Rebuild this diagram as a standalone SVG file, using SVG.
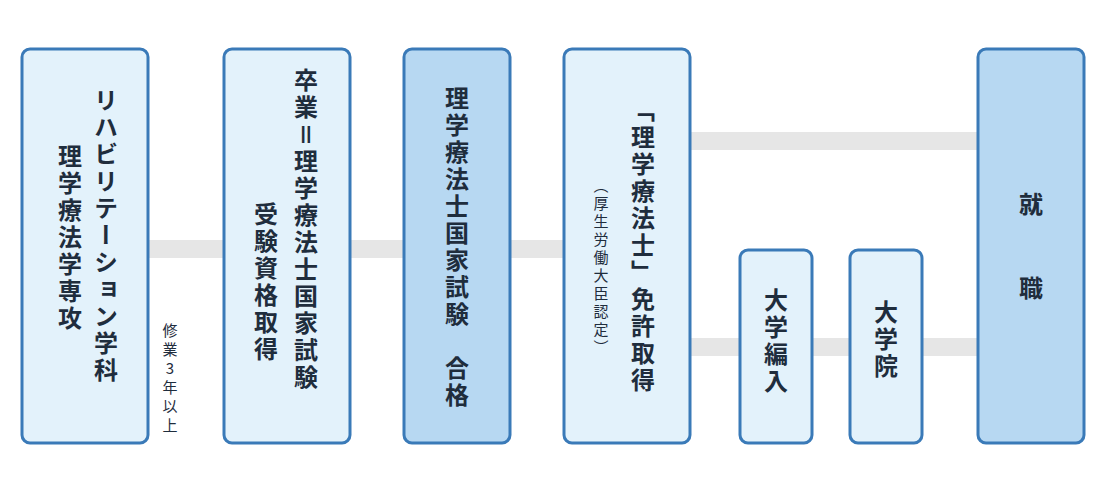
<svg xmlns="http://www.w3.org/2000/svg" width="1100" height="495" viewBox="0 0 1100 495">
<style>
.b{fill:#e3f2fb;stroke:#3a7ab8;stroke-width:3}
.d{fill:#b7d8f2;stroke:#3a7ab8;stroke-width:3}
.t{font-family:"Noto Sans CJK JP",sans-serif;font-weight:bold;font-size:24px;letter-spacing:3px;fill:#1f2d3d;writing-mode:vertical-rl;text-orientation:upright}
.s{font-family:"Noto Sans CJK JP",sans-serif;font-size:15px;letter-spacing:3px;fill:#1f2d3d;writing-mode:vertical-rl;text-orientation:upright}
.c{stroke:#e6e6e6;stroke-width:18;fill:none}
</style>
<rect width="1100" height="495" fill="#fff"/>
<g id="connectors">
<line class="c" x1="148" y1="249" x2="224" y2="249"/>
<line class="c" x1="350" y1="249" x2="404" y2="249"/>
<line class="c" x1="510" y1="249" x2="564" y2="249"/>
<line class="c" x1="690" y1="141" x2="978" y2="141"/>
<line class="c" x1="690" y1="347" x2="740" y2="347"/>
<line class="c" x1="812" y1="347" x2="850" y2="347"/>
<line class="c" x1="922" y1="347" x2="978" y2="347"/>
<text class="s" x="170" y="323" style="letter-spacing:4px">修業3年以上</text>
</g>
<g id="n1"><rect class="b" x="22" y="49" width="126" height="394" rx="8"/>
<text class="t" x="106" y="88">リハビリテーション学科</text>
<text class="t" x="70" y="144">理学療法学専攻</text></g>
<g id="n2"><rect class="b" x="224" y="49" width="126" height="394" rx="8"/>
<text class="t" x="306" y="68">卒業＝理学療法士国家試験</text>
<text class="t" x="266" y="202">受験資格取得</text></g>
<g id="n3"><rect class="d" x="404" y="49" width="106" height="394" rx="8"/>
<text class="t" x="457" y="86">理学療法士国家試験 合格</text></g>
<g id="n4"><rect class="b" x="564" y="49" width="126" height="394" rx="8"/>
<text class="t" x="643" y="98">「理学療法士」免許取得</text>
<text class="s" x="601" y="178">（厚生労働大臣認定）</text></g>
<g id="n5"><rect class="b" x="740" y="250" width="72" height="193" rx="8"/>
<text class="t" x="776" y="288">大学編入</text></g>
<g id="n6"><rect class="b" x="850" y="250" width="72" height="193" rx="8"/>
<text class="t" x="886" y="300">大学院</text></g>
<g id="n7"><rect class="d" x="978" y="49" width="106" height="394" rx="8"/>
<text class="t" x="1031" y="192">就</text>
<text class="t" x="1031" y="276">職</text></g>
</svg>
